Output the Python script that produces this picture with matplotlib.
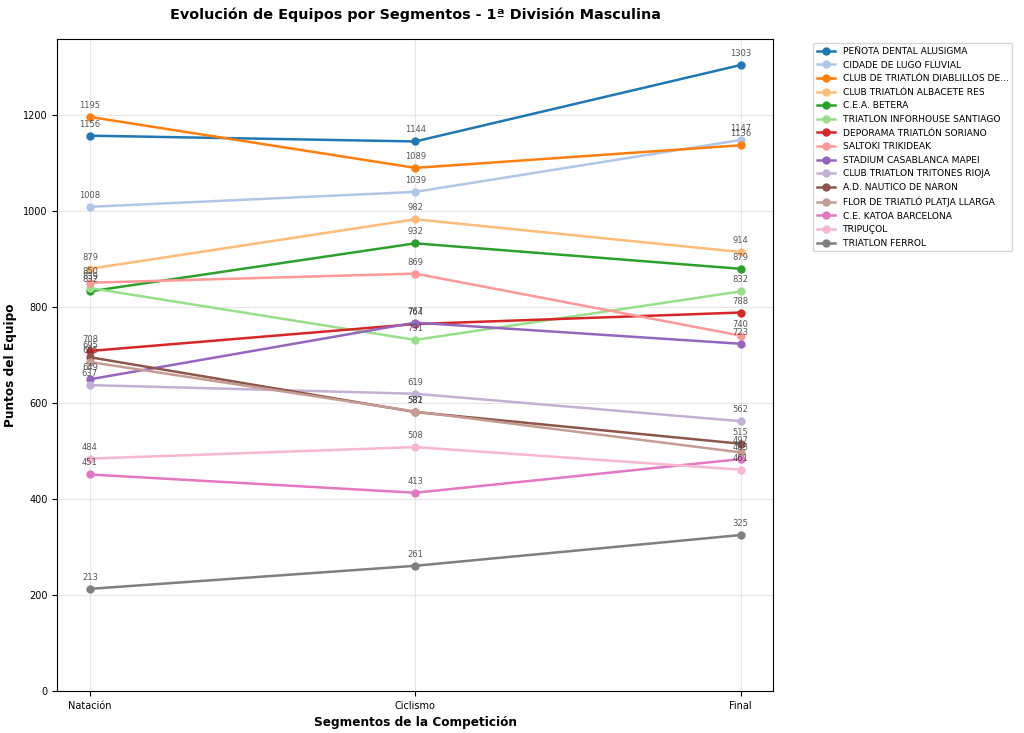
import matplotlib.pyplot as plt

# Datos de los equipos por segmento
segmentos = ['Natación', 'Ciclismo', 'Final']

equipos = [
    'PEÑOTA DENTAL ALUSIGMA',
    'CIDADE DE LUGO FLUVIAL',
    'CLUB DE TRIATLÓN DIABLILLOS DE...',
    'CLUB TRIATLÓN ALBACETE RES',
    'C.E.A. BETERA',
    'TRIATLON INFORHOUSE SANTIAGO',
    'DEPORAMA TRIATLÓN SORIANO',
    'SALTOKI TRIKIDEAK',
    'STADIUM CASABLANCA MAPEI',
    'CLUB TRIATLON TRITONES RIOJA',
    'A.D. NAUTICO DE NARON',
    'FLOR DE TRIATLÓ PLATJA LLARGA',
    'C.E. KATOA BARCELONA',
    'TRIPUÇOL',
    'TRIATLON FERROL',
]

puntos = [
    [1156, 1144, 1303],
    [1008, 1039, 1147],
    [1195, 1089, 1136],
    [879, 982, 914],
    [832, 932, 879],
    [839, 731, 832],
    [708, 764, 788],
    [850, 869, 740],
    [649, 767, 723],
    [637, 619, 562],
    [695, 581, 515],
    [685, 582, 497],
    [451, 413, 483],
    [484, 508, 461],
    [213, 261, 325],
]

colores = plt.cm.tab20.colors

fig, ax = plt.subplots(figsize=(10.24, 7.33), dpi=100)

x = list(range(len(segmentos)))
for i, (nombre, valores) in enumerate(zip(equipos, puntos)):
    ax.plot(x, valores, marker='o', linewidth=1.8, markersize=5,
            color=colores[i], label=nombre)
    # etiquetas de valores
    for xi, v in zip(x, valores):
        ax.annotate(f'{v}', (xi, v), textcoords='offset points', xytext=(0, 6.5),
                    ha='center', fontsize=6, color='#444444', alpha=0.9)

ax.set_xticks(x)
ax.set_xticklabels(segmentos, fontsize=7)
ax.tick_params(axis='y', labelsize=7)
ax.set_ylim(bottom=0)
ax.grid(True, alpha=0.3)

ax.set_title('Evolución de Equipos por Segmentos - 1ª División Masculina',
             fontsize=10.4, fontweight='bold', pad=14)
ax.set_xlabel('Segmentos de la Competición', fontsize=8.7, fontweight='bold')
ax.set_ylabel('Puntos del Equipo', fontsize=8.7, fontweight='bold')

ax.legend(bbox_to_anchor=(1.05, 1), loc='upper left', fontsize=6.6)

plt.subplots_adjust(left=0.056, right=0.755, top=0.947, bottom=0.057)
plt.savefig('out.png', dpi=100)
